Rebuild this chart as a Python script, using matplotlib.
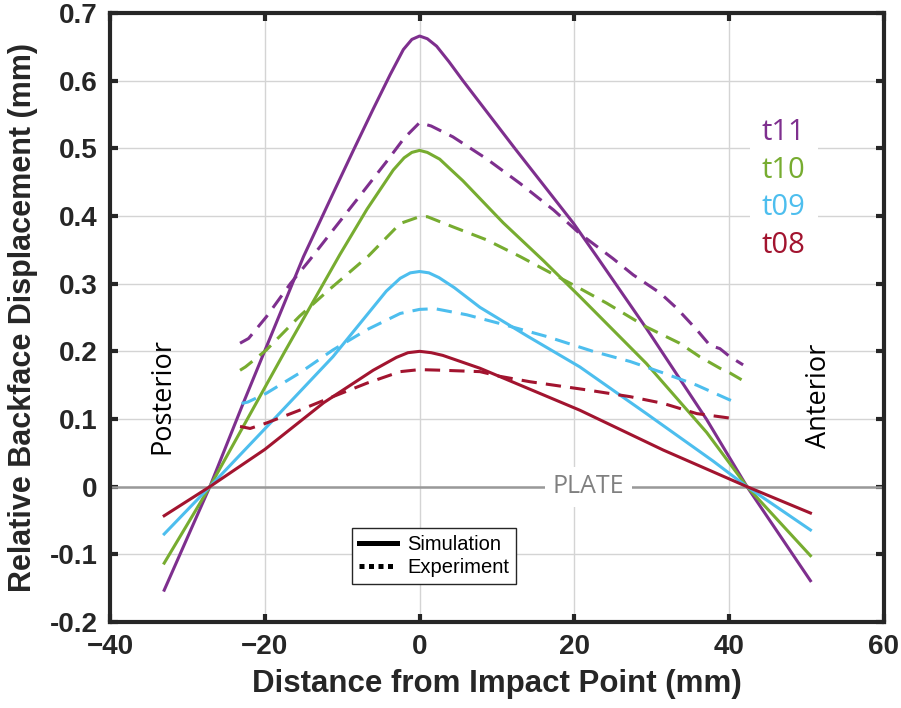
import matplotlib
matplotlib.use("Agg")
import matplotlib.pyplot as plt
from matplotlib.lines import Line2D
from matplotlib.patches import Rectangle

# simulation curves (solid)
x_sim11 = [-33, -27.1, -22.8, -15, -11.2, -8.6, -6, -3.8, -2.1, -1, 0, 1, 2.2, 3.8, 5.6, 12.3, 19.9, 22.9, 29.3, 37.1, 42.3, 50.5]
y_sim11 = [-0.153, 0, 0.123, 0.340, 0.433, 0.496, 0.558, 0.609, 0.646, 0.661, 0.666, 0.662, 0.651, 0.628, 0.600, 0.500, 0.389, 0.340, 0.234, 0.099, 0, -0.139]

x_sim10 = [-33, -27.1, -17.4, -10.3, -6.8, -3.4, -2, -1, 0, 1, 2.6, 4, 5.6, 10.8, 16, 20.7, 29.3, 37.1, 42.3, 50.5]
y_sim10 = [-0.113, 0, 0.200, 0.343, 0.410, 0.468, 0.486, 0.494, 0.497, 0.494, 0.484, 0.469, 0.452, 0.390, 0.334, 0.281, 0.182, 0.080, 0, -0.102]

x_sim09 = [-33, -27.1, -19.7, -11.2, -4.3, -2.5, -1.2, 0, 1.2, 2.5, 4.5, 7.8, 14, 20.7, 29.3, 37.9, 42.3, 50.5]
y_sim09 = [-0.070, 0, 0.089, 0.192, 0.289, 0.308, 0.316, 0.318, 0.316, 0.309, 0.294, 0.265, 0.222, 0.177, 0.108, 0.038, 0, -0.064]

x_sim08 = [-33, -27.1, -20, -12.4, -6, -3, -1.5, 0, 1.5, 3, 7.8, 20.7, 31.5, 42.3, 50.5]
y_sim08 = [-0.043, 0, 0.055, 0.124, 0.172, 0.191, 0.198, 0.200, 0.198, 0.194, 0.175, 0.113, 0.054, 0, -0.039]

# experiment curves (dashed)
x_exp11 = [-23.2, -22.1, -19.8, -16.7, -14.2, -11.2, -7.7, -4.3, -2, 0, 1.5, 4.3, 8.6, 13.0, 17.3, 20.7, 25.0, 27.6, 31.1, 33.2, 35.8, 37.5, 38.8, 40.1, 41.8]
y_exp11 = [0.212, 0.219, 0.251, 0.300, 0.335, 0.379, 0.430, 0.480, 0.515, 0.538, 0.533, 0.517, 0.485, 0.448, 0.409, 0.374, 0.337, 0.313, 0.286, 0.264, 0.232, 0.209, 0.204, 0.192, 0.180]

x_exp10 = [-23.2, -22.5, -19.8, -15.5, -12.0, -6.6, -2.5, 0, 1, 4.3, 8.6, 13, 20.7, 24.2, 29.3, 33.6, 36.2, 38.8, 40.1, 41.6]
y_exp10 = [0.172, 0.177, 0.202, 0.252, 0.288, 0.341, 0.389, 0.399, 0.399, 0.384, 0.365, 0.34, 0.293, 0.271, 0.236, 0.212, 0.192, 0.175, 0.168, 0.158]

x_exp09 = [-23.0, -22.2, -19.8, -15.5, -11.2, -6.8, -2.5, 0, 2, 6.1, 10.4, 16.4, 22.4, 27.2, 31.5, 35.8, 40.5]
y_exp09 = [0.123, 0.125, 0.138, 0.168, 0.202, 0.232, 0.256, 0.262, 0.263, 0.254, 0.241, 0.222, 0.200, 0.185, 0.168, 0.150, 0.126]

x_exp08 = [-23.2, -21.9, -19.8, -15.5, -11.2, -6.8, -2.5, 0, 3, 7.8, 10.4, 14.3, 21.6, 27.2, 31.5, 35.8, 40.3]
y_exp08 = [0.089, 0.086, 0.094, 0.113, 0.133, 0.153, 0.170, 0.173, 0.172, 0.170, 0.163, 0.155, 0.143, 0.133, 0.123, 0.108, 0.101]

labels = ["t11", "t10", "t09", "t08"]
label_y = [0.523, 0.467, 0.412, 0.357]
colors = ["#7E2F8E", "#77AC30", "#4DBEEE", "#A2142F"]

sims = [(x_sim11, y_sim11), (x_sim10, y_sim10), (x_sim09, y_sim09), (x_sim08, y_sim08)]
exps = [(x_exp11, y_exp11), (x_exp10, y_exp10), (x_exp09, y_exp09), (x_exp08, y_exp08)]

ax_font = "Liberation Sans"
txt_font = "Open Sans"
dark = "#262626"

fig = plt.figure(figsize=(9.01, 7.08), dpi=100)
ax = fig.add_axes([0.1221, 0.1215, 0.859, 0.8601])

# plate line
ax.axhline(0, color="#999999", lw=1.8, zorder=1.5)

for (xs, ys), c in zip(sims, colors):
    ax.plot(xs, ys, color=c, lw=2.2, zorder=3)
for (xs, ys), c in zip(exps, colors):
    ax.plot(xs, ys, color=c, lw=2.2, dashes=(5.0, 3.0), zorder=3)

ax.set_xlim(-40, 60)
ax.set_ylim(-0.2, 0.7)
ax.set_xticks([-40, -20, 0, 20, 40, 60])
ax.set_yticks([-0.2, -0.1, 0, 0.1, 0.2, 0.3, 0.4, 0.5, 0.6, 0.7])
ax.set_yticklabels(["-0.2", "-0.1", "0", "0.1", "0.2", "0.3", "0.4", "0.5", "0.6", "0.7"])
ax.grid(True, color="#d4d4d4", lw=1.0, zorder=0)
ax.set_axisbelow(True)

for s in ax.spines.values():
    s.set_linewidth(3)
    s.set_color(dark)
ax.tick_params(direction="in", length=6, width=3, color=dark, top=True, right=True,
               labelsize=20, pad=9, labelcolor=dark)
for lab in ax.get_xticklabels() + ax.get_yticklabels():
    lab.set_fontfamily(ax_font)
    lab.set_fontweight("bold")

ax.set_xlabel("Distance from Impact Point (mm)", fontsize=22.5, fontweight="bold",
              fontfamily=ax_font, color=dark, labelpad=6)
ax.set_ylabel("Relative Backface Displacement (mm)", fontsize=22, fontweight="bold",
              fontfamily=ax_font, color=dark, labelpad=8)

# white block behind thickness labels
ax.add_patch(Rectangle((42.7, 0.33), 8.8, 0.22, facecolor="white", edgecolor="none", zorder=2))
for lab, yy, c in zip(labels, label_y, colors):
    ax.text(47.0, yy, lab, color=c, fontsize=21, fontfamily=txt_font,
            ha="center", va="center", zorder=4)

ax.text(21.8, 0.0, "PLATE", color="#808080", fontsize=18, fontfamily=txt_font,
        ha="center", va="center", zorder=2.5,
        bbox=dict(boxstyle="square,pad=0.3", facecolor="white", edgecolor="none"))
ax.text(-33.2, 0.134, "Posterior", rotation=90, fontsize=19.5, fontfamily=txt_font,
        ha="center", va="center", zorder=4)
ax.text(51.6, 0.135, "Anterior", rotation=90, fontsize=19.5, fontfamily=txt_font,
        ha="center", va="center", zorder=4)

handles = [Line2D([], [], color="black", lw=3.6),
           Line2D([], [], color="black", lw=3.6, dashes=(1.0, 0.9))]
leg = ax.legend(handles, ["Simulation", "Experiment"], loc="lower left",
                bbox_to_anchor=(0.3127, 0.0624), borderaxespad=0, fancybox=False,
                framealpha=1, edgecolor=dark, prop={"family": ax_font, "size": 14.5},
                handlelength=1.9, handletextpad=0.5, labelspacing=0.2, borderpad=0.35)
leg.get_frame().set_linewidth(1.0)
leg.set_zorder(5)

fig.savefig("out.png", dpi=100)
